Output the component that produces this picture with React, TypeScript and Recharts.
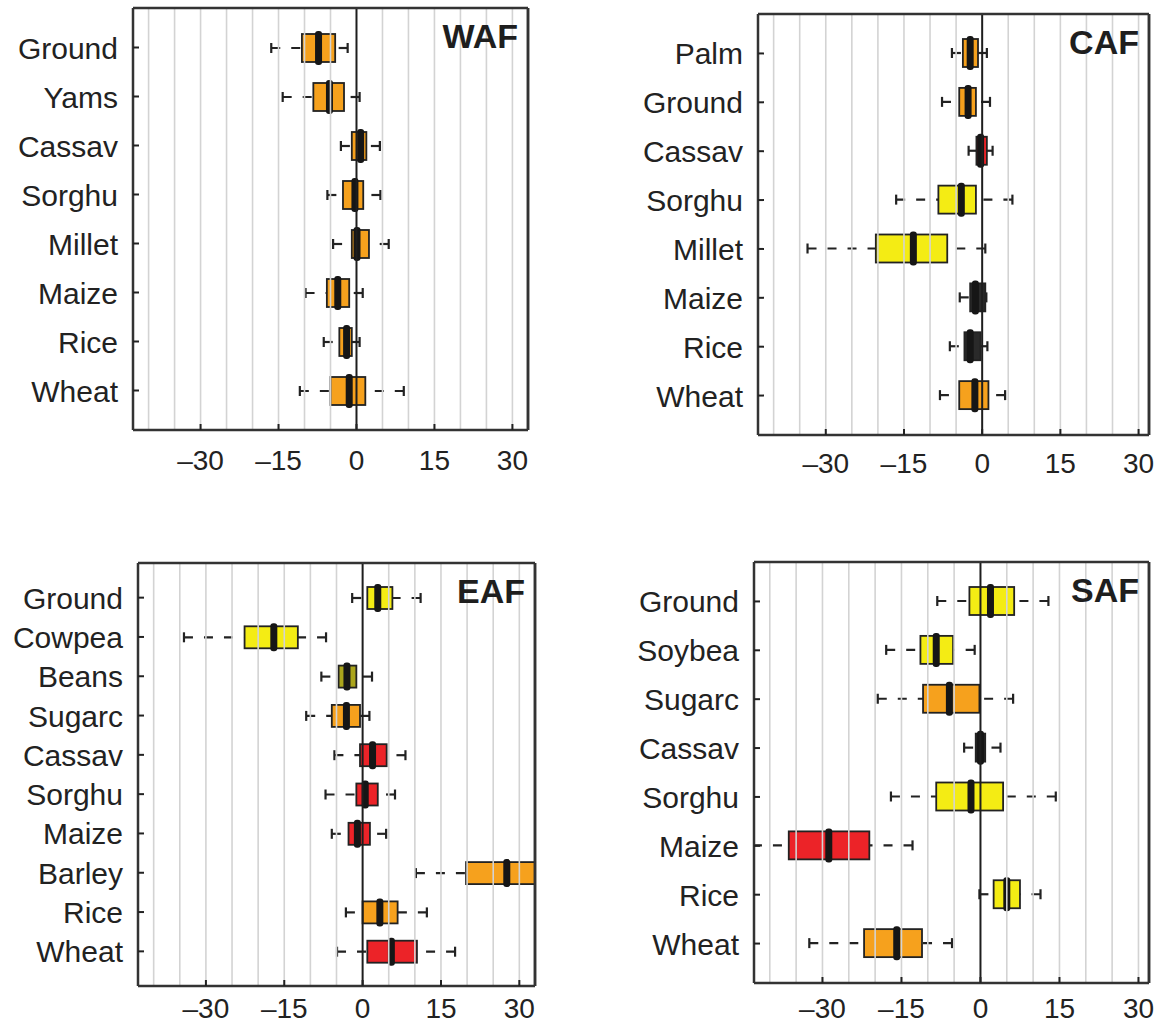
import React from "react";
import { Bar, ComposedChart, ReferenceLine, XAxis, YAxis } from "recharts";

// Yield change (%) per crop, four African regions. Box = interquartile range,
// black bar = median, dashed whiskers with caps = range of the ensemble.

const wafCrops = ["Ground", "Yams", "Cassav", "Sorghu", "Millet", "Maize", "Rice", "Wheat"];
const wafLow = [-16.4, -14.2, -3.0, -5.6, -4.5, -9.8, -6.3, -10.9];
const wafQ1 = [-10.5, -8.3, -0.9, -2.6, -0.9, -5.7, -3.3, -5.0];
const wafMedian = [-7.3, -5.2, 0.8, -0.3, 0.1, -3.6, -1.9, -1.4];
const wafQ3 = [-4.1, -2.4, 1.9, 1.3, 2.4, -1.4, -0.9, 1.7];
const wafHigh = [-1.7, 0.6, 4.5, 4.6, 6.2, 1.2, 0.6, 9.1];
const wafTone = ["orange", "orange", "orange", "orange", "orange", "orange", "orange", "orange"];

const cafCrops = ["Palm", "Ground", "Cassav", "Sorghu", "Millet", "Maize", "Rice", "Wheat"];
const cafLow = [-5.8, -7.7, -2.6, -16.5, -33.5, -4.3, -6.2, -8.1];
const cafQ1 = [-3.7, -4.4, -1.1, -8.4, -20.4, -2.3, -3.4, -4.4];
const cafMedian = [-2.3, -2.7, -0.3, -4.0, -13.2, -1.3, -2.3, -1.4];
const cafQ3 = [-0.8, -1.2, 0.9, -1.2, -6.7, 0.6, -0.3, 1.2];
const cafHigh = [0.9, 1.5, 2.0, 5.8, 0.6, 0.8, 1.0, 4.4];
const cafTone = ["orange", "orange", "red", "yellow", "yellow", "dark", "dark", "orange"];

const eafCrops = ["Ground", "Cowpea", "Beans", "Sugarc", "Cassav", "Sorghu", "Maize", "Barley", "Rice", "Wheat"];
const eafLow = [-2.0, -34.2, -7.9, -10.8, -5.4, -7.1, -5.9, 10.2, -3.2, -4.9];
const eafQ1 = [0.9, -22.6, -4.6, -5.9, -0.5, -1.2, -2.7, 19.8, 0.0, 0.9];
const eafMedian = [2.9, -17.0, -3.0, -3.1, 1.9, 0.5, -1.0, 27.6, 3.3, 5.5];
const eafQ3 = [5.7, -12.4, -1.2, -0.5, 4.6, 2.9, 1.4, 36.0, 6.7, 10.4];
const eafHigh = [11.1, -7.0, 1.8, 1.3, 8.2, 6.2, 4.5, 42.0, 12.3, 17.7];
const eafTone = ["yellow", "yellow", "olive", "orange", "red", "red", "red", "orange", "orange", "red"];

const safCrops = ["Ground", "Soybea", "Sugarc", "Cassav", "Sorghu", "Maize", "Rice", "Wheat"];
const safLow = [-8.2, -17.9, -19.5, -3.1, -17.0, -47.0, -0.2, -32.5];
const safQ1 = [-2.1, -11.4, -10.9, -0.9, -8.4, -36.4, 2.5, -22.1];
const safMedian = [1.9, -8.4, -5.9, 0.0, -1.8, -28.8, 5.0, -15.9];
const safQ3 = [6.4, -5.2, -0.2, 0.9, 4.3, -21.1, 7.5, -11.1];
const safHigh = [12.9, -1.1, 6.2, 3.8, 14.3, -12.9, 11.4, -5.4];
const safTone = ["yellow", "yellow", "orange", "dark", "yellow", "red", "yellow", "orange"];

const xTicks = [-30, -15, 0, 15, 30];
const gridValues = [-40, -35, -30, -25, -20, -15, -10, -5, 5, 10, 15, 20, 25, 30];

const TONES: Record<string, string> = {
  red: "#ec2328",
  orange: "#f6a11d",
  yellow: "#f4ec14",
  olive: "#aba51c",
  dark: "#2a2a2a",
};
const INK = "#222";
const FONT = "'Liberation Sans', Arial, Helvetica, sans-serif";

function BoxShape(props: any) {
  const { x, y, width, height, payload } = props;
  if (!payload || !isFinite(x) || !isFinite(width)) return null;
  // linear scale, so positions inside the whisker bar follow from its ends
  const span = payload.hi - payload.lo;
  const px = (v: number) => x + ((v - payload.lo) / span) * width;
  const cy = y + height / 2;
  const xLo = px(payload.lo);
  const xQ1 = px(payload.q1);
  const xMed = px(payload.med);
  const xQ3 = px(payload.q3);
  const xHi = px(payload.hi);
  return (
    <g>
      <line x1={xLo} y1={cy} x2={xQ1} y2={cy} stroke={INK} strokeWidth={2.2} strokeDasharray="9 11" />
      <line x1={xHi} y1={cy} x2={xQ3} y2={cy} stroke={INK} strokeWidth={2.2} strokeDasharray="9 11" />
      <line x1={xLo} y1={cy - 5} x2={xLo} y2={cy + 5} stroke={INK} strokeWidth={2.2} />
      <line x1={xHi} y1={cy - 5} x2={xHi} y2={cy + 5} stroke={INK} strokeWidth={2.2} />
      <rect x={xQ1} y={y} width={xQ3 - xQ1} height={height} fill={TONES[payload.tone]} stroke={INK} strokeWidth={1.8} />
      <rect x={xMed - 3.5} y={y - 3} width={7} height={height + 6} rx={3} fill="#161616" />
    </g>
  );
}

function makeXTick(labelOffset: number) {
  return function XTick(props: any) {
    const { x, y, payload } = props;
    const v = payload.value;
    const label = v < 0 ? `\u2013${Math.abs(v)}` : String(v);
    return (
      <g>
        <line x1={x} y1={y} x2={x} y2={y - 6} stroke={INK} strokeWidth={2} />
        <text x={x} y={y + labelOffset} textAnchor="middle" fontSize={28} fill={INK} fontFamily={FONT}>
          {label}
        </text>
      </g>
    );
  };
}

function YTick(props: any) {
  const { x, y, payload } = props;
  return (
    <g>
      <line x1={x} y1={y} x2={x + 6} y2={y} stroke={INK} strokeWidth={2} />
      <text x={x - 15} y={y + 11} textAnchor="end" fontSize={30} fill={INK} fontFamily={FONT}>
        {payload.value}
      </text>
    </g>
  );
}

type PanelProps = {
  title: string;
  crops: string[];
  low: number[];
  q1: number[];
  median: number[];
  q3: number[];
  high: number[];
  tone: string[];
  left: number;
  top: number;
  width: number;
  height: number;
  marginTop: number;
  marginRight: number;
  yAxisWidth: number;
  xAxisHeight: number;
  labelOffset: number;
  domain: [number, number];
  barSize: number;
};

function Panel(p: PanelProps) {
  const rows = p.crops.map((crop, i) => ({
    crop,
    whisker: [p.low[i], p.high[i]],
    lo: p.low[i],
    q1: p.q1[i],
    med: p.median[i],
    q3: p.q3[i],
    hi: p.high[i],
    tone: p.tone[i],
  }));
  const frame = { stroke: "#333", strokeWidth: 2.5 };
  const pad = { top: 15, bottom: 15 };
  const XTick = makeXTick(p.labelOffset);
  return (
    <div style={{ position: "absolute", left: p.left, top: p.top, width: p.width, height: p.height }}>
      <ComposedChart
        width={p.width}
        height={p.height}
        data={rows}
        layout="vertical"
        margin={{ top: p.marginTop - 1, right: p.marginRight - 1, bottom: 0, left: 0 }}
      >
        <XAxis
          type="number"
          domain={p.domain}
          allowDataOverflow
          ticks={xTicks}
          interval={0}
          height={p.xAxisHeight}
          axisLine={frame}
          tickLine={false}
          tickSize={0}
          tickMargin={0}
          tick={<XTick />}
        />
        <XAxis
          xAxisId="top"
          orientation="top"
          type="number"
          domain={p.domain}
          allowDataOverflow
          ticks={xTicks}
          interval={0}
          height={1}
          mirror
          axisLine={frame}
          tickSize={6}
          tickLine={{ stroke: INK, strokeWidth: 2 }}
          tick={false}
        />
        <YAxis
          type="category"
          dataKey="crop"
          width={p.yAxisWidth}
          interval={0}
          padding={pad}
          axisLine={frame}
          tickLine={false}
          tickSize={0}
          tickMargin={0}
          tick={<YTick />}
        />
        <YAxis
          yAxisId="right"
          orientation="right"
          type="category"
          dataKey="crop"
          width={1}
          interval={0}
          padding={pad}
          mirror
          axisLine={frame}
          tickSize={6}
          tickLine={{ stroke: INK, strokeWidth: 2 }}
          tick={false}
        />
        {gridValues.map((v) => (
          <ReferenceLine key={v} x={v} stroke="#d3d3d3" strokeWidth={1.6} />
        ))}
        <ReferenceLine x={0} stroke="#1e1e1e" strokeWidth={2} />
        <ReferenceLine x={p.domain[1]} stroke="#333" strokeWidth={2.5} ifOverflow="visible" />
        <Bar dataKey="whisker" barSize={p.barSize} shape={BoxShape} isAnimationActive={false} />
      </ComposedChart>
      <div
        style={{
          position: "absolute",
          right: p.marginRight + 9,
          top: p.marginTop + 10,
          fontFamily: FONT,
          fontWeight: "bold",
          fontSize: 34,
          lineHeight: 1,
          color: "#1e1e1e",
        }}
      >
        {p.title}
      </div>
    </div>
  );
}

export default function App() {
  return (
    <div style={{ position: "absolute", left: 0, top: 0, width: 1157, height: 1025, background: "#fff" }}>
      <Panel
        title="WAF"
        crops={wafCrops}
        low={wafLow}
        q1={wafQ1}
        median={wafMedian}
        q3={wafQ3}
        high={wafHigh}
        tone={wafTone}
        left={0}
        top={0}
        width={560}
        height={500}
        marginTop={9}
        marginRight={33}
        yAxisWidth={133}
        xAxisHeight={70}
        labelOffset={40}
        domain={[-43, 33]}
        barSize={28}
      />
      <Panel
        title="CAF"
        crops={cafCrops}
        low={cafLow}
        q1={cafQ1}
        median={cafMedian}
        q3={cafQ3}
        high={cafHigh}
        tone={cafTone}
        left={570}
        top={0}
        width={587}
        height={505}
        marginTop={15}
        marginRight={9}
        yAxisWidth={188}
        xAxisHeight={70}
        labelOffset={38}
        domain={[-43, 32]}
        barSize={28}
      />
      <Panel
        title="EAF"
        crops={eafCrops}
        low={eafLow}
        q1={eafQ1}
        median={eafMedian}
        q3={eafQ3}
        high={eafHigh}
        tone={eafTone}
        left={0}
        top={540}
        width={560}
        height={485}
        marginTop={24}
        marginRight={26}
        yAxisWidth={138}
        xAxisHeight={39}
        labelOffset={32}
        domain={[-43, 33]}
        barSize={22}
      />
      <Panel
        title="SAF"
        crops={safCrops}
        low={safLow}
        q1={safQ1}
        median={safMedian}
        q3={safQ3}
        high={safHigh}
        tone={safTone}
        left={570}
        top={540}
        width={587}
        height={485}
        marginTop={23}
        marginRight={9}
        yAxisWidth={184}
        xAxisHeight={42}
        labelOffset={35}
        domain={[-43, 32]}
        barSize={28}
      />
    </div>
  );
}
